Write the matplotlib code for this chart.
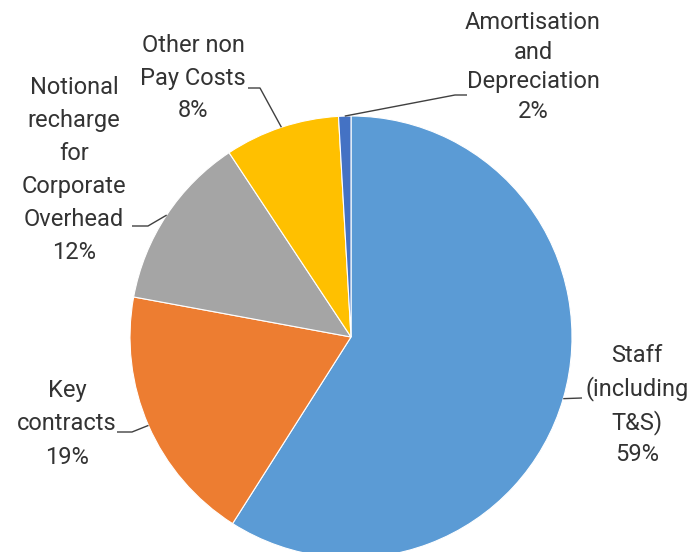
import numpy as np
import matplotlib
matplotlib.use('Agg')
import matplotlib.pyplot as plt

# slice shares (clockwise from 12 o'clock)
categories = ['Staff\n(including\nT&S)', 'Key\ncontracts', 'Notional\nrecharge\nfor\nCorporate\nOverhead',
              'Other non\nPay Costs', 'Amortisation\nand\nDepreciation']
values = [59.0, 18.9, 12.8, 8.4, 0.9]
pct_labels = ['59%', '19%', '12%', '8%', '2%']
colors = ['#5B9BD5', '#ED7D31', '#A5A5A5', '#FFC000', '#4472C4']

W, H = 692, 552
plt.rcParams['font.family'] = ['Roboto', 'DejaVu Sans']

fig = plt.figure(figsize=(W / 100, H / 100), dpi=100)
ax = fig.add_axes([0, 0, 1, 1])

cx, cy, r = 351, H - 337, 221
ax.pie(values, colors=colors, startangle=90, counterclock=False,
       center=(cx, cy), radius=r,
       wedgeprops=dict(edgecolor='white', linewidth=0.8))

# label layout in pixels from top: text centre, elbow, line end
layout = [
    dict(tx=637, ty=405, elbow=(582, 398), end=(582, 398), ls=1.45),
    dict(tx=67, ty=424, elbow=(132, 432), end=(117, 432), ls=1.61),
    dict(tx=74, ty=170, elbow=(148, 226), end=(132, 226), ls=1.55),
    dict(tx=193, ty=78, elbow=(260, 88), end=(248, 88), ls=1.55),
    dict(tx=533, ty=67, elbow=(455, 95), end=(467, 95), ls=1.38),
]

total = sum(values)
cum = np.cumsum(values)
for i, (name, pct) in enumerate(zip(categories, pct_labels)):
    mid = 360 * (cum[i] - values[i] / 2) / total
    ang = np.deg2rad(90 - mid)
    ex, ey = cx + r * np.cos(ang), cy + r * np.sin(ang)
    lay = layout[i]
    xs = [ex, lay['elbow'][0], lay['end'][0]]
    ys = [ey, H - lay['elbow'][1], H - lay['end'][1]]
    ax.plot(xs, ys, color='#404040', lw=1, solid_capstyle='butt')
    ax.text(lay['tx'], H - lay['ty'], name + '\n' + pct, ha='center', va='center',
            fontsize=17, color='#333333', linespacing=lay['ls'], multialignment='center')

ax.set_xlim(0, W)
ax.set_ylim(0, H)
ax.set_aspect('auto')
ax.axis('off')

fig.savefig('out.png', dpi=100, facecolor='white')
